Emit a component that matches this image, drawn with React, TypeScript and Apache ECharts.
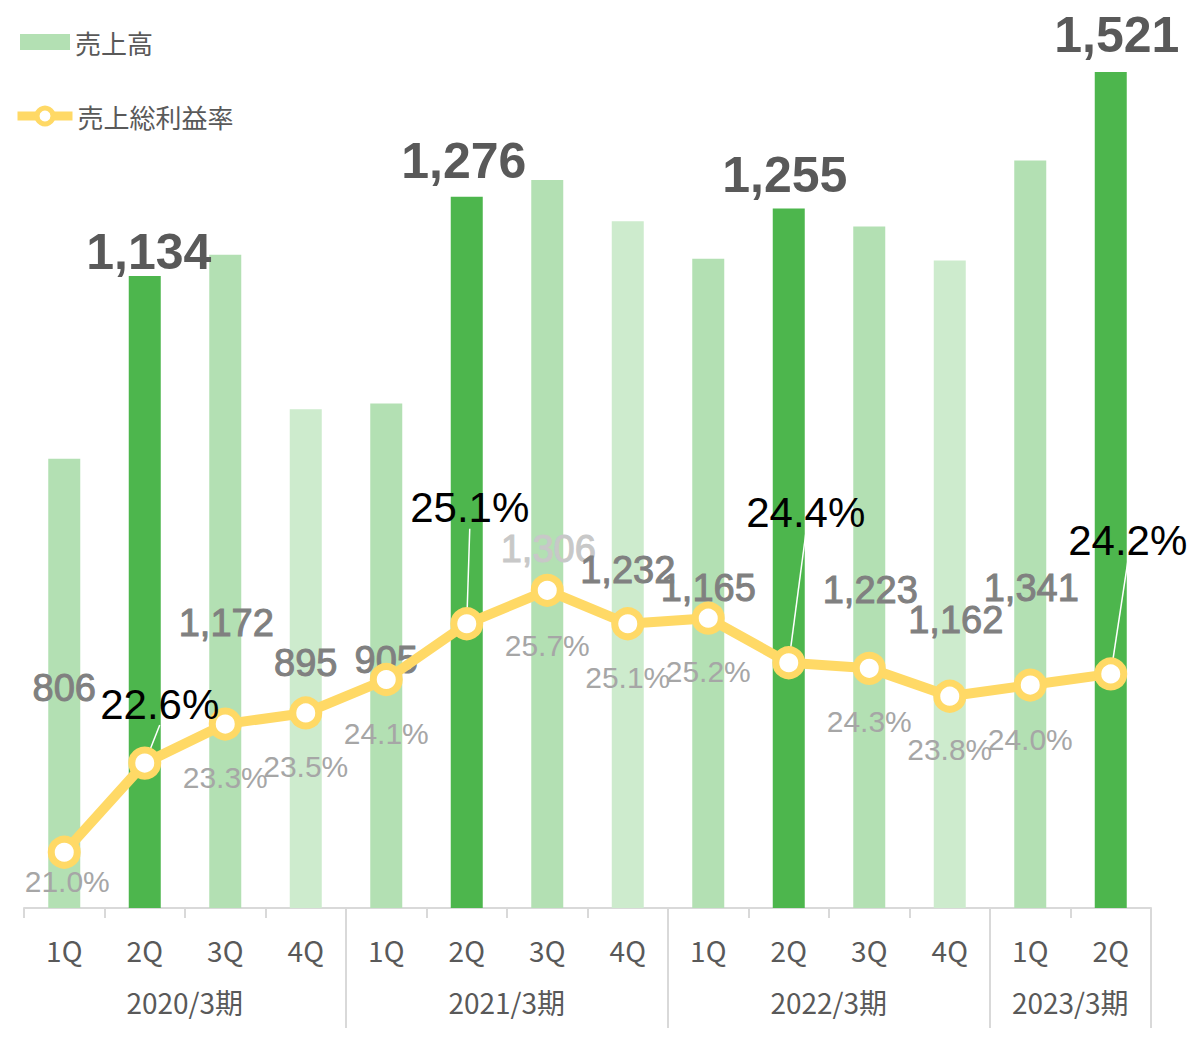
import React, { useEffect, useRef } from "react";
import * as echarts from "echarts";

const quarters = ["1Q", "2Q", "3Q", "4Q", "1Q", "2Q", "3Q", "4Q", "1Q", "2Q", "3Q", "4Q", "1Q", "2Q"];
const fiscalYears = ["2020/3期", "2021/3期", "2022/3期", "2023/3期"];
const fiscalYearSizes = [4, 4, 4, 2];
const sales = [806, 1134, 1172, 895, 905, 1276, 1306, 1232, 1165, 1255, 1223, 1162, 1341, 1521];
const grossMargin = [21.0, 22.6, 23.3, 23.5, 24.1, 25.1, 25.7, 25.1, 25.2, 24.4, 24.3, 23.8, 24.0, 24.2];

// label offsets (layout only)
const barLabelOffsets: [number, number][] = [
  [0, 248], [4, 1], [1, 387], [0, 273], [0, 275], [-3, -11], [1, 388],
  [0, 368], [0, 348], [-4, -9], [1, 383], [6, 379], [1, 446], [6, -12],
];
const lineLabelOffsets: [number, number][] = [
  [3, 29], [15, -59], [0, 53], [0, 54], [0, 54], [3, -116], [0, 55],
  [0, 54], [0, 53], [17, -150], [0, 53], [0, 53], [0, 54], [17, -133],
];

const highlightIdx = [1, 5, 9, 13];
const barColors: Record<string, string> = {
  "1Q": "#b3e0b3",
  "2Q": "#4db64d",
  "3Q": "#b3e0b3",
  "4Q": "#cdebcd",
};
const lineColor = "#ffd966";

export default function App() {
  const ref = useRef<HTMLDivElement>(null);
  useEffect(() => {
    document.body.style.margin = "0";
    const chart = echarts.init(ref.current!, null, { renderer: "svg" });

    const boundaryIdx: number[] = [];
    const groupLabelIdx: Record<number, string> = {};
    let start = 0;
    fiscalYearSizes.forEach((n, i) => {
      if (start > 0) boundaryIdx.push(start);
      groupLabelIdx[start + n / 2 - 1] = fiscalYears[i];
      start += n;
    });

    const barData = sales.map((v, i) => {
      const big = highlightIdx.includes(i);
      const c = big ? "#595959" : i === 6 ? "#c8c8c8" : "#808080";
      return {
        value: v,
        itemStyle: { color: barColors[quarters[i]] },
        label: {
          show: true,
          position: "top",
          distance: 0,
          offset: barLabelOffsets[i],
          fontFamily: "Liberation Sans, Arial, sans-serif",
          fontWeight: big ? "bold" : "normal",
          fontSize: big ? 50 : 38,
          color: c,
          textBorderColor: c,
          textBorderWidth: big ? 0 : 1,
        },
      };
    });

    const lineData = grossMargin.map((v, i) => {
      const big = highlightIdx.includes(i);
      return {
        value: v,
        label: {
          show: true,
          position: "inside",
          offset: lineLabelOffsets[i],
          fontFamily: "Liberation Sans, Arial, sans-serif",
          fontSize: big ? 42 : 30,
          color: big ? "#000000" : "#a6a6a6",
        },
        labelLine: big
          ? { show: true, lineStyle: { color: "#ffffff", width: 1.5 } }
          : { show: false },
      };
    });

    const legendText = { fontSize: 26, color: "#595959", fontFamily: "Noto Sans CJK JP" };

    chart.setOption({
      animation: false,
      grid: { left: 24, right: 52, top: 72, bottom: 129, containLabel: false },
      legend: [
        {
          data: [{ name: "売上高", icon: "rect", itemStyle: { color: "#b3e0b3" } }],
          left: 15,
          top: 24,
          itemWidth: 50,
          itemHeight: 16,
          textStyle: legendText,
          selectedMode: false,
        },
        {
          data: [
            {
              name: "売上総利益率",
              lineStyle: { color: lineColor, width: 9 },
              itemStyle: { color: "#ffffff", borderColor: lineColor, borderWidth: 5 },
            },
          ],
          left: 8,
          top: 98,
          itemWidth: 55,
          itemHeight: 20,
          textStyle: legendText,
          selectedMode: false,
        },
      ],
      xAxis: [
        {
          type: "category",
          data: quarters,
          position: "bottom",
          axisLine: { lineStyle: { color: "#d9d9d9", width: 2 } },
          axisTick: { show: true, length: 10, lineStyle: { color: "#d9d9d9", width: 2 } },
          axisLabel: {
            interval: 0,
            margin: 28,
            fontSize: 28,
            color: "#595959",
            fontFamily: "Noto Sans CJK JP",
          },
        },
        {
          type: "category",
          data: quarters,
          position: "bottom",
          axisLine: { show: false },
          axisTick: {
            show: true,
            length: 120,
            interval: (idx: number) => boundaryIdx.includes(idx),
            lineStyle: { color: "#d9d9d9", width: 2 },
          },
          axisLabel: {
            interval: (idx: number) => groupLabelIdx[idx] !== undefined,
            formatter: (_v: string, idx: number) => groupLabelIdx[idx] ?? "",
            margin: 80,
            padding: [0, 0, 0, 80],
            fontSize: 28,
            color: "#595959",
            fontFamily: "Noto Sans CJK JP",
          },
        },
      ],
      yAxis: [
        { type: "value", min: 0, max: 1500, show: false, splitLine: { show: false } },
        { type: "value", min: 20, max: 35, show: false, splitLine: { show: false } },
      ],
      series: [
        {
          name: "売上高",
          type: "bar",
          xAxisIndex: 0,
          yAxisIndex: 0,
          barWidth: 32,
          clip: true,
          data: barData,
          label: {
            formatter: (p: any) => Number(p.value).toLocaleString("en-US"),
          },
        },
        {
          name: "売上総利益率",
          type: "line",
          xAxisIndex: 0,
          yAxisIndex: 1,
          symbol: "circle",
          symbolSize: 26,
          lineStyle: { color: lineColor, width: 10 },
          itemStyle: { color: "#ffffff", borderColor: lineColor, borderWidth: 7 },
          data: lineData,
          label: {
            formatter: (p: any) => Number(p.value).toFixed(1) + "%",
          },
          z: 3,
        },
      ],
    });
    return () => chart.dispose();
  }, []);
  return <div ref={ref} style={{ width: 1203, height: 1037 }} />;
}
